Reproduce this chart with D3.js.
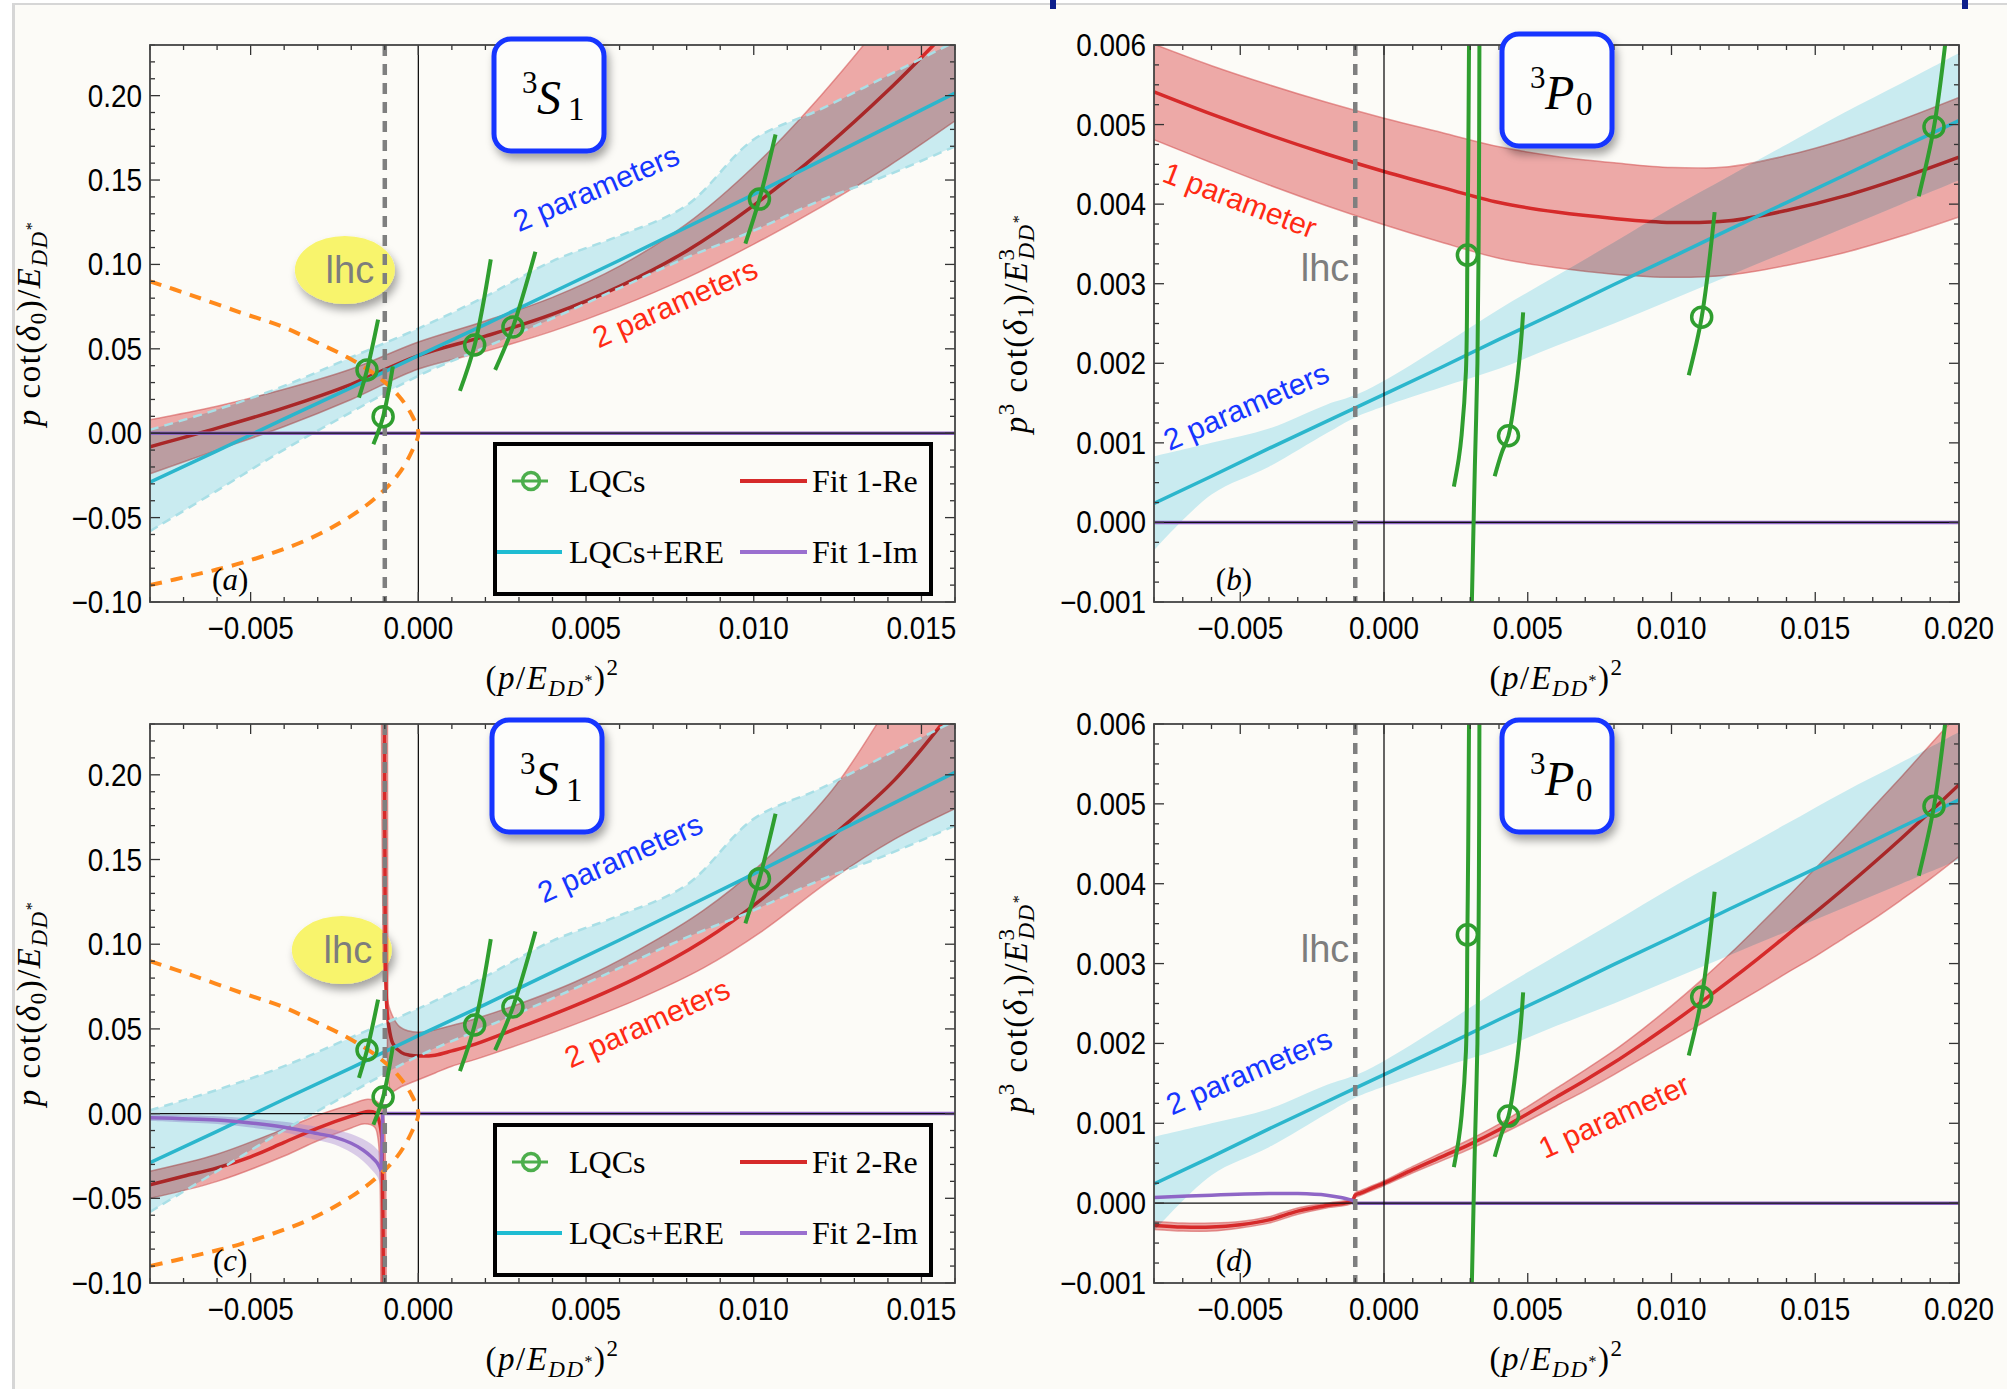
<!DOCTYPE html>
<html>
<head>
<meta charset="utf-8">
<title>p cot delta fits</title>
<script src="https://cdn.jsdelivr.net/npm/d3@7"></script>
<style>
  body { margin: 0; background: #fff; }
  svg { display: block; }
  text { font-family: "Liberation Sans", Arial, sans-serif; }
  .serif { font-family: "Liberation Serif", "DejaVu Serif", serif; }
</style>
</head>
<body>
<svg id="chart" width="2007" height="1389"></svg>
<script>
/* ----------- axes ----------- */
const sXDomain = [-0.008, 0.016];
const pXDomain = [-0.008, 0.020];
const sYDomain = [-0.10, 0.23];
const pYDomain = [-0.001, 0.006];
const sXTicks = [-0.005, 0, 0.005, 0.010, 0.015];
const pXTicks = [-0.005, 0, 0.005, 0.010, 0.015, 0.020];
const sYTicks = [-0.10, -0.05, 0, 0.05, 0.10, 0.15, 0.20];
const pYTicks = [-0.001, 0, 0.001, 0.002, 0.003, 0.004, 0.005, 0.006];
const lhcX = -0.001;

/* ----------- 3S1 (panels a, c) ----------- */
const sX       = [-0.008, -0.006, -0.004, -0.002, 0, 0.002, 0.004, 0.006, 0.008, 0.010, 0.012, 0.014, 0.016];
const sEre     = [-0.029, -0.0105, 0.0085, 0.027, 0.046, 0.0645, 0.0835, 0.1025, 0.122, 0.1415, 0.1615, 0.1815, 0.2015];
const sEreLo   = [-0.058, -0.034, -0.0097, 0.0125, 0.034, 0.051, 0.068, 0.086, 0.104, 0.120, 0.138, 0.153, 0.170];
const sEreHi   = [0.002, 0.014, 0.028, 0.045, 0.062, 0.081, 0.102, 0.117, 0.135, 0.174, 0.192, 0.212, 0.232];
const sFit1    = [-0.008, 0.003, 0.015, 0.029, 0.046, 0.0575, 0.0705, 0.087, 0.108, 0.135, 0.167, 0.203, 0.243];
const sFit1Err = [0.016, 0.013, 0.011, 0.009, 0.008, 0.009, 0.010, 0.012, 0.016, 0.023, 0.033, 0.045, 0.058];
const sFit1Im  = [[-0.008, 0], [0.016, 0]];

// fit 2 has a pole just below x = -0.001: left and right branches
const sFit2L   = [[-0.008, -0.042], [-0.007, -0.037], [-0.006, -0.032], [-0.005, -0.0255], [-0.004, -0.017], [-0.003, -0.0085],
                  [-0.002, -0.0015], [-0.0015, 0.0012], [-0.0013, 0.0006], [-0.0012, -0.0025], [-0.0011, -0.012], [-0.00107, -0.03], [-0.00104, -0.11]];
const sFit2LHi = [[-0.008, -0.034], [-0.006, -0.024], [-0.004, -0.009], [-0.003, -0.001], [-0.002, 0.0055], [-0.0015, 0.0085],
                  [-0.0012, 0.0065], [-0.00105, 0.0], [-0.00098, -0.03], [-0.00096, -0.11]];
const sFit2LLo = [[-0.008, -0.050], [-0.006, -0.040], [-0.004, -0.025], [-0.003, -0.016], [-0.002, -0.0085], [-0.0016, -0.006],
                  [-0.0013, -0.008], [-0.0012, -0.015], [-0.00114, -0.04], [-0.00112, -0.11]];
const sFit2R   = [[-0.00101, 0.24], [-0.00099, 0.12], [-0.00097, 0.08], [-0.00093, 0.06], [-0.00085, 0.048], [-0.00075, 0.041],
                  [-0.0005, 0.036], [-0.00025, 0.0345], [0, 0.034], [0.0005, 0.0345], [0.001, 0.037], [0.0017, 0.041], [0.0029, 0.050],
                  [0.0047, 0.064], [0.0066, 0.081], [0.0085, 0.102], [0.0102, 0.126], [0.0123, 0.163], [0.0142, 0.197], [0.0160, 0.240]];
const sFit2RHi = [[-0.00110, 0.24], [-0.00106, 0.12], [-0.00101, 0.08], [-0.00084, 0.061], [-0.00054, 0.051], [0, 0.048], [0.001, 0.052],
                  [0.0017, 0.056], [0.0029, 0.064], [0.0047, 0.078], [0.0066, 0.097], [0.0085, 0.120], [0.0102, 0.147], [0.0123, 0.19],
                  [0.0140, 0.24], [0.0160, 0.30]];
const sFit2RLo = [[-0.00092, 0.24], [-0.00091, 0.08], [-0.00089, 0.02], [-0.0008, 0.013], [-0.0005, 0.016], [0, 0.020], [0.0005, 0.024],
                  [0.001, 0.028], [0.0017, 0.032], [0.0029, 0.040], [0.0047, 0.053], [0.0066, 0.068], [0.0085, 0.086], [0.0102, 0.107],
                  [0.0123, 0.138], [0.0142, 0.162], [0.016, 0.180]];
const sIm2X    = [-0.008, -0.006, -0.005, -0.004, -0.003, -0.0025, -0.002, -0.00165, -0.0014, -0.00123, -0.0011];
const sIm2     = [-0.0024, -0.0038, -0.0055, -0.008, -0.0118, -0.0139, -0.0175, -0.0215, -0.0255, -0.029, -0.034];
const sIm2Hi   = [-0.0005, -0.0015, -0.0028, -0.0048, -0.0078, -0.0095, -0.012, -0.015, -0.018, -0.021, -0.024];
const sIm2Lo   = [-0.0043, -0.0061, -0.0082, -0.0112, -0.0158, -0.0183, -0.023, -0.028, -0.033, -0.037, -0.044];
const sIm2Flat = [[-0.0011, -0.034], [-0.00106, 0], [0.016, 0]];

// left-hand-cut boundary (orange dashed)
const sLhcCurve = [[-0.0080, 0.090], [-0.0068, 0.082], [-0.0053, 0.0715], [-0.0041, 0.0635], [-0.0031, 0.0545], [-0.0021, 0.0448],
                   [-0.0012, 0.0335], [-0.0006, 0.0225], [-0.0002, 0.011], [0, 0], [-0.0002, -0.011], [-0.0006, -0.0245],
                   [-0.0012, -0.037], [-0.0020, -0.049], [-0.0033, -0.063], [-0.0053, -0.077], [-0.0068, -0.0845], [-0.0080, -0.090]];

const sLqcPts = [[-0.00153, 0.0375], [-0.00105, 0.0098], [0.00168, 0.0523], [0.00282, 0.0629], [0.01017, 0.1387]];
const sLqcCurves = [
  [[-0.00177, 0.0211], [-0.00153, 0.0375], [-0.0012, 0.0673]],
  [[-0.00134, -0.0066], [-0.00105, 0.0098], [-0.00076, 0.0396]],
  [[0.00124, 0.0251], [0.00168, 0.0523], [0.00216, 0.103]],
  [[0.00229, 0.0375], [0.00282, 0.0629], [0.00349, 0.1075]],
  [[0.00975, 0.1123], [0.01017, 0.1387], [0.01065, 0.177]]
];

/* ----------- 3P0 (panels b, d) ----------- */
const pX       = [-0.008, -0.006, -0.004, -0.002, 0, 0.002, 0.004, 0.006, 0.008, 0.010, 0.012, 0.014, 0.016, 0.018, 0.020];
const pFit1    = [0.00541, 0.00513, 0.00487, 0.00463, 0.00441, 0.00421, 0.00402, 0.00390, 0.00382, 0.00377, 0.00379, 0.00392, 0.00410, 0.00433, 0.00459];
const pFit1Err = [0.00060, 0.00061, 0.00063, 0.00065, 0.00067, 0.00069, 0.00070, 0.00070, 0.00070, 0.00069, 0.00068, 0.00069, 0.00071, 0.00073, 0.00075];
const pFit1Im  = [[-0.008, 0], [0.020, 0]];

const pEreX    = [-0.008, -0.006, -0.004, -0.002, -0.001, 0, 0.002, 0.004, 0.006, 0.008, 0.010, 0.012, 0.014, 0.016, 0.018, 0.020];
const pEre     = [0.00024, 0.00058, 0.00093, 0.00127, 0.00144, 0.00161, 0.00195, 0.0023, 0.00264, 0.00299, 0.00333, 0.00368, 0.00402, 0.00436, 0.00471, 0.00505];
const pEreHi   = [0.00083, 0.00100, 0.00118, 0.00148, 0.00160, 0.00178, 0.00222, 0.00268, 0.00310, 0.00352, 0.00395, 0.00435, 0.00475, 0.00515, 0.00552, 0.00590];
const pEreLo   = [-0.00035, 0.00035, 0.00070, 0.00112, 0.00132, 0.00146, 0.00170, 0.00193, 0.00222, 0.00250, 0.00280, 0.00310, 0.00340, 0.00370, 0.00400, 0.00430];

const pFit2X   = [-0.008, -0.007, -0.006, -0.005, -0.004, -0.003, -0.002, -0.0011, -0.001, -0.0008, 0, 0.001, 0.002, 0.003, 0.004, 0.005,
                  0.006, 0.007, 0.008, 0.009, 0.010, 0.011, 0.012, 0.013, 0.014, 0.015, 0.016, 0.017, 0.018, 0.019, 0.020];
const pFit2    = [-0.00028, -0.0003, -0.0003, -0.00027, -0.00021, -0.0001, -0.00003, 0.00003, 0.0001, 0.00013, 0.00025, 0.00042, 0.00058, 0.00074,
                  0.00092, 0.00112, 0.00133, 0.00154, 0.00176, 0.00200, 0.00225, 0.00251, 0.00278, 0.00306, 0.00335, 0.00364, 0.00394, 0.00425,
                  0.00457, 0.00490, 0.00524];
const pFit2Err = [0.00005, 0.00005, 0.00005, 0.00004, 0.00004, 0.00004, 0.00003, 0.00003, 0.00003, 0.00003, 0.00003, 0.00004, 0.00005, 0.00006,
                  0.00007, 0.00009, 0.00011, 0.00013, 0.00015, 0.00018, 0.00022, 0.00027, 0.00033, 0.00040, 0.00047, 0.00055, 0.00062, 0.00070,
                  0.00077, 0.00084, 0.00090];
const pIm2     = [[-0.008, 0.00007], [-0.006, 0.0001], [-0.004, 0.00012], [-0.003, 0.00012], [-0.002, 0.0001], [-0.0015, 0.00007], [-0.00105, 0.00003]];
const pIm2Flat = [[-0.00105, 0.00003], [-0.00104, 0], [0.020, 0]];

const pLqcPts = [[0.0029, 0.00336], [0.00433, 0.00109], [0.01105, 0.00258], [0.01913, 0.00497]];
const pLqcCurves = [
  [[0.00243, 0.00045], [0.0026, 0.0008], [0.0027, 0.0011], [0.00285, 0.0019], [0.0029, 0.00336], [0.00293, 0.0045], [0.00296, 0.0062]],
  [[0.00305, -0.0011], [0.00316, 0.0007], [0.00325, 0.002], [0.0033, 0.004], [0.00332, 0.0062]],
  [[0.00385, 0.00058], [0.0041, 0.00088], [0.00433, 0.00109], [0.0046, 0.0017], [0.00475, 0.0022], [0.00484, 0.00264]],
  [[0.0106, 0.00185], [0.01105, 0.00258], [0.0115, 0.0039]],
  [[0.0186, 0.0041], [0.01913, 0.00497], [0.01958, 0.0062]]
];

/* ----------- helpers ----------- */
const pts = (xs, ys) => xs.map((v, i) => [v, ys[i]]);
const shift = (xs, ys, es, s) => xs.map((v, i) => [v, ys[i] + s * es[i]]);

const C = {
  red: "#d62a2a", redBand: "#e06666", cyan: "#2bb6cc", cyanBand: "#c9ebf0",
  purple: "#8f66c6", green: "#2f9e2f", orange: "#ff8a1c", blue: "#1535ff", txtRed: "#ff2a14"
};

const svg = d3.select("#chart");
const defs = svg.append("defs");
const sh = defs.append("filter").attr("id", "shadow")
  .attr("x", "-30%").attr("y", "-30%").attr("width", "170%").attr("height", "170%");
sh.append("feDropShadow").attr("dx", 3).attr("dy", 6).attr("stdDeviation", 4)
  .attr("flood-color", "#000").attr("flood-opacity", 0.35);

// page background
svg.append("rect").attr("width", 2007).attr("height", 1389).attr("fill", "#ffffff");
svg.append("rect").attr("x", 12).attr("y", 3).attr("width", 2010).attr("height", 1400).attr("fill", "#d6d6d6");
svg.append("rect").attr("x", 15).attr("y", 5).attr("width", 2010).attr("height", 1400).attr("fill", "#fcfbf7");
[1053, 1965].forEach(bx => svg.append("rect").attr("x", bx - 3).attr("y", 0).attr("width", 6).attr("height", 9).attr("fill", "#0d1f8c"));

function drawPanel(p) {
  const x = d3.scaleLinear().domain(p.xDomain).range([p.left, p.right]);
  const y = d3.scaleLinear().domain(p.yDomain).range([p.bottom, p.top]);
  const smooth = d3.line().x(d => x(d[0])).y(d => y(d[1])).curve(d3.curveCatmullRom.alpha(0.5));
  const straight = d3.line().x(d => x(d[0])).y(d => y(d[1]));
  const bandPath = (hi, lo) => smooth(hi) + "L" + smooth(lo.slice().reverse()).slice(1) + "Z";

  const clipId = "clip-" + p.id;
  defs.append("clipPath").attr("id", clipId).append("rect")
    .attr("x", p.left).attr("y", p.top)
    .attr("width", p.right - p.left).attr("height", p.bottom - p.top);

  const g = svg.append("g");

  // yellow lhc bubble
  if (p.bubble) {
    g.append("ellipse").attr("cx", x(p.bubble[0])).attr("cy", y(p.bubble[1]))
      .attr("rx", 50).attr("ry", 34).attr("fill", "#f8f46c").attr("filter", "url(#shadow)");
  }

  const plot = g.append("g").attr("clip-path", `url(#${clipId})`);

  // Re bands
  p.reBands.forEach(b => {
    plot.append("path").attr("d", bandPath(b.hi, b.lo))
      .attr("fill", C.redBand).attr("fill-opacity", 0.55);
    [b.hi, b.lo].forEach(e => plot.append("path").attr("d", smooth(e))
      .attr("fill", "none").attr("stroke", "#d65a5a").attr("stroke-opacity", 0.6).attr("stroke-width", 1.5));
  });
  // Im bands
  (p.imBands || []).forEach(b => {
    plot.append("path").attr("d", bandPath(b.hi, b.lo))
      .attr("fill", "#a585d0").attr("fill-opacity", 0.4);
  });
  // Re lines
  p.reLines.forEach(l => plot.append("path").attr("d", smooth(l))
    .attr("fill", "none").attr("stroke", C.red).attr("stroke-width", 3.5));

  // LQCs+ERE band (drawn on top with multiply so overlaps darken)
  plot.append("path").attr("d", bandPath(p.ere.hi, p.ere.lo))
    .attr("fill", C.cyanBand).style("mix-blend-mode", "multiply");
  if (p.ereDashed) {
    [p.ere.hi, p.ere.lo].forEach(e => plot.append("path").attr("d", smooth(e))
      .attr("fill", "none").attr("stroke", "#a9dfe6").attr("stroke-width", 2.5).attr("stroke-dasharray", "9,6"));
  }
  plot.append("path").attr("d", straight(p.ere.line))
    .attr("fill", "none").attr("stroke", C.cyan).attr("stroke-width", 3.5);

  // Im lines
  p.imLines.forEach(l => plot.append("path").attr("d", (l.length > 3 ? smooth : straight)(l))
    .attr("fill", "none").attr("stroke", C.purple).attr("stroke-width", 3.5));

  // thin axes through the origin
  plot.append("line").attr("x1", x(0)).attr("x2", x(0)).attr("y1", p.top).attr("y2", p.bottom)
    .attr("stroke", "#000").attr("stroke-width", 1.2);
  plot.append("line").attr("x1", p.left).attr("x2", p.right).attr("y1", y(0)).attr("y2", y(0))
    .attr("stroke", "#111").attr("stroke-width", 1.2);

  // orange lhc boundary
  if (p.lhcCurve) {
    plot.append("path").attr("d", smooth(p.lhcCurve))
      .attr("fill", "none").attr("stroke", C.orange).attr("stroke-width", 4).attr("stroke-dasharray", "12,9");
  }
  // gray lhc dashed line
  plot.append("line").attr("x1", x(lhcX)).attr("x2", x(lhcX)).attr("y1", p.top).attr("y2", p.bottom)
    .attr("stroke", "#7f7f7f").attr("stroke-width", 4.5).attr("stroke-dasharray", "11,8");

  // LQC curves and points
  p.lqcCurves.forEach(c => plot.append("path").attr("d", smooth(c))
    .attr("fill", "none").attr("stroke", C.green).attr("stroke-width", 4));
  plot.selectAll(null).data(p.lqcPts).enter().append("circle")
    .attr("cx", d => x(d[0])).attr("cy", d => y(d[1])).attr("r", 10)
    .attr("fill", "none").attr("stroke", C.green).attr("stroke-width", 3.5);

  /* ---- frame and ticks ---- */
  const axis = svg.append("g");
  const isMajor = (v, ticks, step) => ticks.some(t => Math.abs(t - v) < step / 10);
  const minor = (dom, step) => d3.range(Math.ceil(dom[0] / step - 1e-6), Math.floor(dom[1] / step + 1e-6) + 1).map(k => k * step);

  minor(p.xDomain, p.xMinorStep).forEach(v => {
    const L = isMajor(v, p.xTicks, p.xMinorStep) ? 10 : 5;
    axis.append("line").attr("x1", x(v)).attr("x2", x(v)).attr("y1", p.bottom).attr("y2", p.bottom - L);
    axis.append("line").attr("x1", x(v)).attr("x2", x(v)).attr("y1", p.top).attr("y2", p.top + L);
  });
  minor(p.yDomain, p.yMinorStep).forEach(v => {
    const L = isMajor(v, p.yTicks, p.yMinorStep) ? 10 : 5;
    axis.append("line").attr("y1", y(v)).attr("y2", y(v)).attr("x1", p.left).attr("x2", p.left + L);
    axis.append("line").attr("y1", y(v)).attr("y2", y(v)).attr("x1", p.right).attr("x2", p.right - L);
  });
  axis.selectAll("line").attr("stroke", "#333").attr("stroke-width", 1.3);
  axis.append("rect").attr("x", p.left).attr("y", p.top)
    .attr("width", p.right - p.left).attr("height", p.bottom - p.top)
    .attr("fill", "none").attr("stroke", "#444").attr("stroke-width", 1.8);

  // tick labels: a tall, slightly narrow sans
  const fx = d3.format(".3f"), fy = d3.format(p.yFmt);
  axis.selectAll(null).data(p.xTicks).enter().append("text")
    .attr("transform", d => `translate(${x(d)},${p.bottom + 37}) scale(0.9,1)`)
    .attr("text-anchor", "middle").attr("font-size", 31).text(fx);
  axis.selectAll(null).data(p.yTicks).enter().append("text")
    .attr("transform", d => `translate(${p.left - 8},${y(d) + 11}) scale(0.9,1)`)
    .attr("text-anchor", "end").attr("font-size", 31).text(fy);

  // x label (p/E_DD*)^2
  const xl = axis.append("text").attr("class", "serif").attr("x", (p.left + p.right) / 2).attr("y", p.bottom + 87)
    .attr("text-anchor", "middle").attr("font-size", 33).attr("letter-spacing", 1.5);
  xl.append("tspan").text("(");
  xl.append("tspan").attr("font-style", "italic").text("p");
  xl.append("tspan").text("/");
  xl.append("tspan").attr("font-style", "italic").text("E");
  xl.append("tspan").attr("font-style", "italic").attr("font-size", 23).attr("dy", 7).text("DD");
  xl.append("tspan").attr("font-size", 16).attr("dy", -10).text("*");
  xl.append("tspan").attr("dy", 3).text(")");
  xl.append("tspan").attr("font-size", 23).attr("dy", -14).text("2");

  // y label
  const yl = axis.append("text").attr("class", "serif")
    .attr("transform", `translate(${p.left - p.ylabOffset},${(p.top + p.bottom) / 2}) rotate(-90)`)
    .attr("text-anchor", "middle").attr("font-size", 33).attr("letter-spacing", 1.5);
  yl.append("tspan").attr("font-style", "italic").text("p");
  if (p.wave === "P") yl.append("tspan").attr("font-size", 23).attr("dy", -13).text("3");
  yl.append("tspan").attr("dy", p.wave === "P" ? 13 : 0).text(" cot(");
  yl.append("tspan").attr("font-style", "italic").text("δ");
  yl.append("tspan").attr("font-size", 23).attr("dy", 6).text(p.wave === "P" ? "1" : "0");
  yl.append("tspan").attr("dy", -6).text(")/");
  yl.append("tspan").attr("font-style", "italic").text("E");
  if (p.wave === "P") {
    yl.append("tspan").attr("font-size", 23).attr("dy", -13).text("3");
    yl.append("tspan").attr("font-style", "italic").attr("font-size", 23).attr("dx", -12).attr("dy", 20).text("DD");
  } else {
    yl.append("tspan").attr("font-style", "italic").attr("font-size", 23).attr("dy", 7).text("DD");
  }
  yl.append("tspan").attr("font-size", 16).attr("dy", -10).text("*");

  /* ---- annotations ---- */
  const ann = svg.append("g");
  p.labels.forEach(l => ann.append("text")
    .attr("transform", `translate(${x(l.x)},${y(l.y)}) rotate(${l.angle})`)
    .attr("text-anchor", "middle").attr("dominant-baseline", "central")
    .attr("font-size", 30).attr("fill", l.color).text(l.text));

  ann.append("text").attr("x", x(p.lhcText[0])).attr("y", y(p.lhcText[1]))
    .attr("text-anchor", "middle").attr("font-size", 38).attr("fill", "#7d7d7d").text("lhc");

  const pl = ann.append("text").attr("class", "serif").attr("x", x(p.tag[0])).attr("y", y(p.tag[1]))
    .attr("text-anchor", "middle").attr("font-size", 31);
  pl.append("tspan").text("(");
  pl.append("tspan").attr("font-style", "italic").text(p.id);
  pl.append("tspan").text(")");

  // legend
  if (p.legend) {
    const lg = svg.append("g").attr("transform", `translate(${p.legend.x},${p.legend.y})`);
    lg.append("rect").attr("x", 0).attr("y", 0).attr("width", 436).attr("height", 150)
      .attr("fill", "#fcfbf7").attr("stroke", "#000").attr("stroke-width", 4);
    const rows = [37, 108];
    lg.append("line").attr("x1", 17).attr("x2", 53).attr("y1", rows[0]).attr("y2", rows[0])
      .attr("stroke", "#4cae4c").attr("stroke-width", 3);
    lg.append("circle").attr("cx", 36).attr("cy", rows[0]).attr("r", 8.5)
      .attr("fill", "none").attr("stroke", "#4cae4c").attr("stroke-width", 3.5);
    lg.append("line").attr("x1", 2).attr("x2", 67).attr("y1", rows[1]).attr("y2", rows[1])
      .attr("stroke", "#1fbcd2").attr("stroke-width", 4);
    lg.append("line").attr("x1", 245).attr("x2", 312).attr("y1", rows[0]).attr("y2", rows[0])
      .attr("stroke", C.red).attr("stroke-width", 4);
    lg.append("line").attr("x1", 245).attr("x2", 312).attr("y1", rows[1]).attr("y2", rows[1])
      .attr("stroke", "#9a6fcf").attr("stroke-width", 4);
    const lt = [[74, rows[0], "LQCs"], [317, rows[0], `Fit ${p.fit}-Re`], [74, rows[1], "LQCs+ERE"], [317, rows[1], `Fit ${p.fit}-Im`]];
    lt.forEach(t => lg.append("text").attr("class", "serif").attr("x", t[0]).attr("y", t[1] + 11)
      .attr("font-size", 32).text(t[2]));
  }

  // partial-wave box
  const bx = svg.append("g").attr("transform", `translate(${p.box.x},${p.box.y})`);
  bx.append("rect").attr("x", 0).attr("y", 0).attr("width", 110).attr("height", 112).attr("rx", 17)
    .attr("fill", "#fdfdfb").attr("stroke", C.blue).attr("stroke-width", 5).attr("filter", "url(#shadow)");
  bx.append("text").attr("class", "serif").attr("x", 28).attr("y", 54).attr("font-size", 31).text("3");
  bx.append("text").attr("class", "serif").attr("x", 43).attr("y", 75).attr("font-size", 48)
    .attr("font-style", "italic").text(p.wave);
  bx.append("text").attr("class", "serif").attr("x", 74).attr("y", 81).attr("font-size", 33)
    .text(p.wave === "S" ? "1" : "0");
}

/* ----------- panels ----------- */
const sCommon = {
  xDomain: sXDomain, yDomain: sYDomain, xTicks: sXTicks, yTicks: sYTicks,
  xMinorStep: 0.001, yMinorStep: 0.01, yFmt: ".2f", wave: "S", ylabOffset: 110,
  ere: { hi: pts(sX, sEreHi), lo: pts(sX, sEreLo), line: pts(sX, sEre) }, ereDashed: true,
  lhcCurve: sLhcCurve, lqcCurves: sLqcCurves, lqcPts: sLqcPts
};
const pCommon = {
  xDomain: pXDomain, yDomain: pYDomain, xTicks: pXTicks, yTicks: pYTicks,
  xMinorStep: 0.001, yMinorStep: 0.00025, yFmt: ".3f", wave: "P", ylabOffset: 127,
  ere: { hi: pts(pEreX, pEreHi), lo: pts(pEreX, pEreLo), line: pts(pEreX, pEre) }, ereDashed: false,
  lqcCurves: pLqcCurves, lqcPts: pLqcPts
};

drawPanel(Object.assign({}, sCommon, {
  id: "a", fit: 1, left: 150, right: 955, top: 45, bottom: 602,
  reBands: [{ hi: shift(sX, sFit1, sFit1Err, 1), lo: shift(sX, sFit1, sFit1Err, -1) }],
  reLines: [pts(sX, sFit1)], imLines: [sFit1Im],
  bubble: [-0.00219, 0.0967], lhcText: [-0.00204, 0.089], tag: [-0.00561, -0.0929],
  labels: [
    { text: "2 parameters", color: C.blue, x: 0.0053, y: 0.1453, angle: -23 },
    { text: "2 parameters", color: C.txtRed, x: 0.00765, y: 0.0771, angle: -24 }
  ],
  legend: { x: 495, y: 444 }, box: { x: 494, y: 39 }
}));

drawPanel(Object.assign({}, pCommon, {
  id: "b", fit: 1, left: 1154, right: 1959, top: 45, bottom: 602,
  reBands: [{ hi: shift(pX, pFit1, pFit1Err, 1), lo: shift(pX, pFit1, pFit1Err, -1) }],
  reLines: [pts(pX, pFit1)], imLines: [pFit1Im],
  lhcText: [-0.00205, 0.00303], tag: [-0.00522, -0.00085],
  labels: [
    { text: "1 parameter", color: C.txtRed, x: -0.00501, y: 0.00405, angle: 21 },
    { text: "2 parameters", color: C.blue, x: -0.0048, y: 0.00146, angle: -23.5 }
  ],
  box: { x: 1502, y: 34 }
}));

drawPanel(Object.assign({}, sCommon, {
  id: "c", fit: 2, left: 150, right: 955, top: 724, bottom: 1283,
  reBands: [{ hi: sFit2LHi, lo: sFit2LLo }, { hi: sFit2RHi, lo: sFit2RLo }],
  reLines: [sFit2L, sFit2R],
  imBands: [{ hi: pts(sIm2X, sIm2Hi), lo: pts(sIm2X, sIm2Lo) }],
  imLines: [pts(sIm2X, sIm2), sIm2Flat],
  bubble: [-0.00228, 0.0966], lhcText: [-0.0021, 0.0889], tag: [-0.00561, -0.0929],
  labels: [
    { text: "2 parameters", color: C.blue, x: 0.00601, y: 0.1509, angle: -24 },
    { text: "2 parameters", color: C.txtRed, x: 0.00682, y: 0.0535, angle: -24 }
  ],
  legend: { x: 495, y: 1125 }, box: { x: 492, y: 720 }
}));

drawPanel(Object.assign({}, pCommon, {
  id: "d", fit: 2, left: 1154, right: 1959, top: 724, bottom: 1283,
  reBands: [{ hi: shift(pFit2X, pFit2, pFit2Err, 1), lo: shift(pFit2X, pFit2, pFit2Err, -1) }],
  reLines: [pts(pFit2X, pFit2)], imLines: [pIm2, pIm2Flat],
  lhcText: [-0.00205, 0.00302], tag: [-0.00522, -0.00085],
  labels: [
    { text: "2 parameters", color: C.blue, x: -0.0047, y: 0.00165, angle: -23 },
    { text: "1 parameter", color: C.txtRed, x: 0.0080, y: 0.00109, angle: -24.5 }
  ],
  box: { x: 1502, y: 720 }
}));
</script>
</body>
</html>
